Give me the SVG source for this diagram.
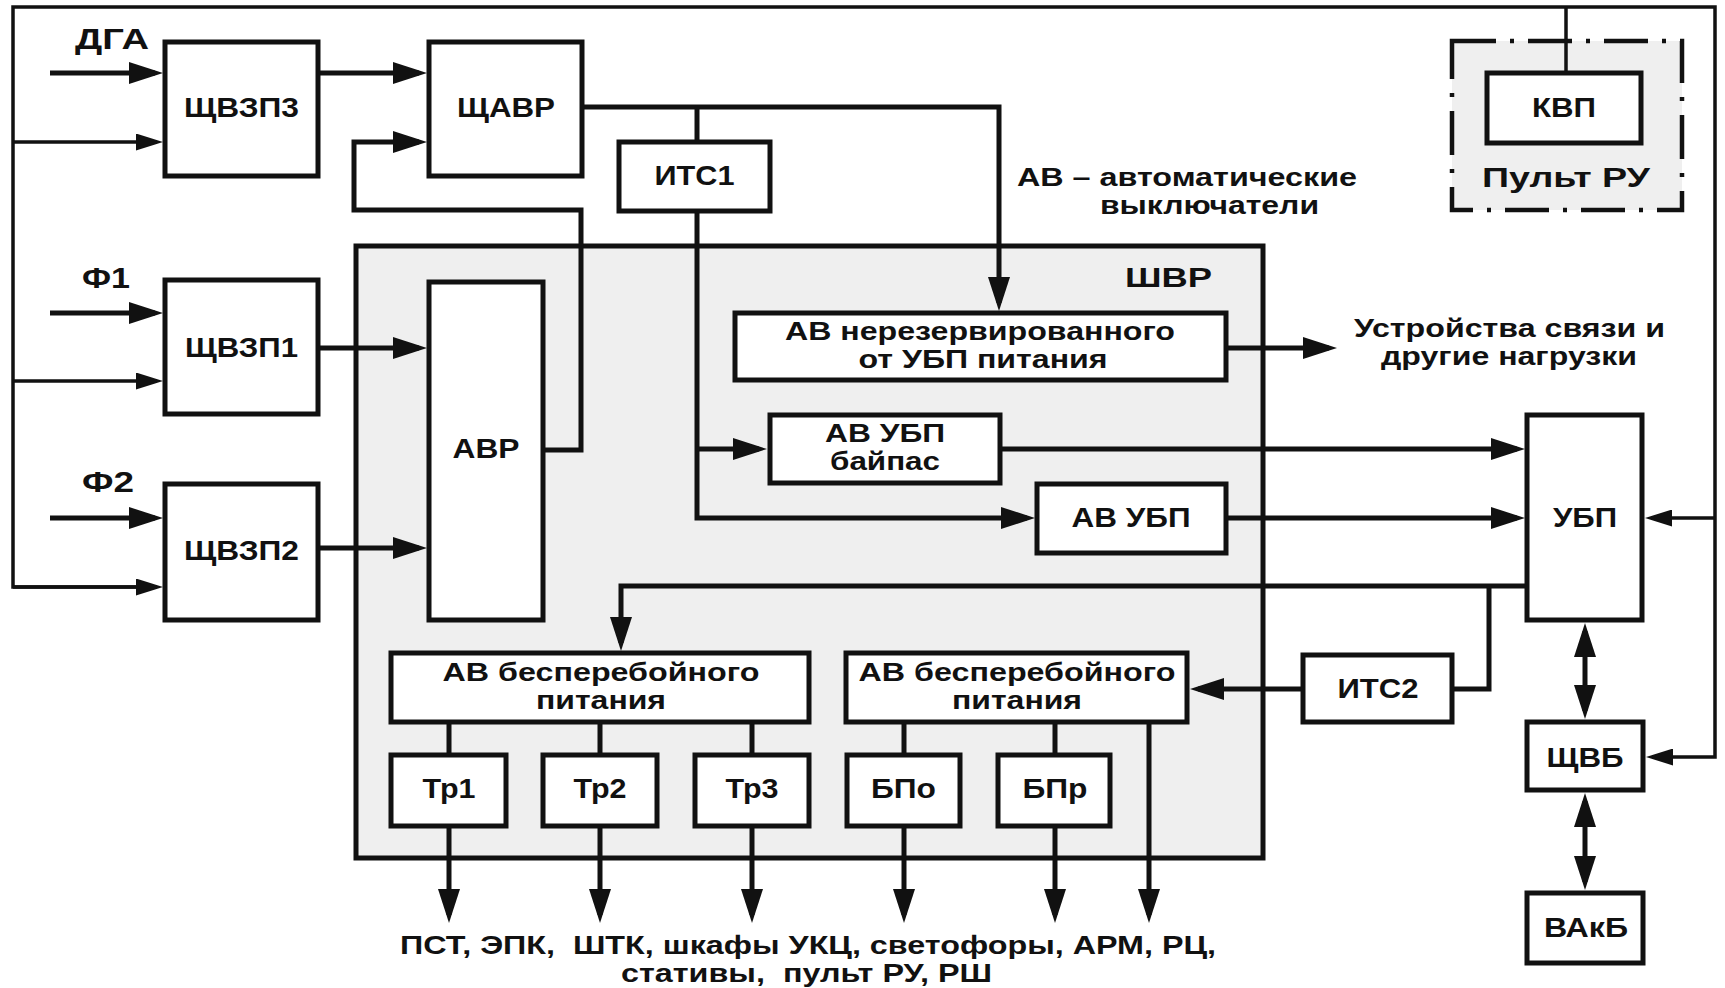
<svg xmlns="http://www.w3.org/2000/svg" width="1725" height="988" viewBox="0 0 1725 988">
<style>
.bg{fill:#ffffff}
.box{fill:#ffffff;stroke:#111;stroke-width:5}
.grp{fill:#efefef;stroke:#111;stroke-width:5}
.dash{fill:#efefef;stroke:#111;stroke-width:4.5;stroke-dasharray:44 14 4 14}
.c{fill:none;stroke:#111;stroke-width:5;stroke-linejoin:miter}
.f{fill:none;stroke:#111;stroke-width:3.5}
.t{font-family:"Liberation Sans",Arial,sans-serif;font-weight:bold;font-size:27px;fill:#111;white-space:pre}
.t2{font-size:25px}
.m{text-anchor:middle}
.l{font-size:29px}
</style>
<defs>
<marker id="a" viewBox="0 0 34 22" markerWidth="34" markerHeight="22" refX="26" refY="11" orient="auto-start-reverse" markerUnits="userSpaceOnUse"><path d="M0,0 L34,11 L0,22 z" fill="#111"/></marker>
<marker id="s" viewBox="0 0 27 17" markerWidth="27" markerHeight="17" refX="21" refY="8.5" orient="auto" markerUnits="userSpaceOnUse"><path d="M0,0 L27,8.5 L0,17 z" fill="#111"/></marker>
</defs>
<rect class="bg" x="0" y="0" width="1725" height="988"/>

<g id="SHVR">
<rect class="grp" x="356" y="246" width="907" height="612"/>
<text class="t" x="1125" y="287" font-size="32" textLength="87" lengthAdjust="spacingAndGlyphs">ШВР</text>
</g>

<g id="PULT">
<rect class="dash" x="1452" y="41" width="230" height="169"/>
<text class="t m" x="1566" y="187" font-size="30" textLength="168" lengthAdjust="spacingAndGlyphs">Пульт РУ</text>
</g>

<g id="connectors">
<path class="f" d="M1566,7 V73"/>
<path class="f" d="M157,587 H13 V7 H1715 V757 H1652" marker-end="url(#s)"/>
<path class="f" d="M13,142 H157" marker-end="url(#s)"/>
<path class="f" d="M13,381 H157" marker-end="url(#s)"/>
<path class="f" d="M1715,518 H1651" marker-end="url(#s)"/>
<path class="f" d="M13,587 H157" marker-end="url(#s)"/>

<path class="c" d="M50,73 H155" marker-end="url(#a)"/>
<path class="c" d="M50,313 H155" marker-end="url(#a)"/>
<path class="c" d="M50,518 H155" marker-end="url(#a)"/>
<path class="c" d="M318,73 H419" marker-end="url(#a)"/>
<path class="c" d="M543,450 H581 V210 H354 V142 H419" marker-end="url(#a)"/>
<path class="c" d="M318,348 H419" marker-end="url(#a)"/>
<path class="c" d="M318,548 H419" marker-end="url(#a)"/>
<path class="c" d="M582,107 H999 V303" marker-end="url(#a)"/>
<path class="c" d="M697,107 V142"/>
<path class="c" d="M697,211 V518 H1027" marker-end="url(#a)"/>
<path class="c" d="M697,449 H759" marker-end="url(#a)"/>
<path class="c" d="M1226,348 H1329" marker-end="url(#a)"/>
<path class="c" d="M1000,449 H1517" marker-end="url(#a)"/>
<path class="c" d="M1226,518 H1517" marker-end="url(#a)"/>
<path class="c" d="M1527,586 H621 V643" marker-end="url(#a)"/>
<path class="c" d="M1489,586 V689 H1452"/>
<path class="c" d="M1303,689 H1198" marker-end="url(#a)"/>
<path class="c" d="M1585,631 V711" marker-start="url(#a)" marker-end="url(#a)"/>
<path class="c" d="M1585,801 V882" marker-start="url(#a)" marker-end="url(#a)"/>
<path class="c" d="M449,722 V755 M600,722 V755 M752,722 V755 M904,722 V755 M1055,722 V755"/>
<path class="c" d="M449,826 V915" marker-end="url(#a)"/>
<path class="c" d="M600,826 V915" marker-end="url(#a)"/>
<path class="c" d="M752,826 V915" marker-end="url(#a)"/>
<path class="c" d="M904,826 V915" marker-end="url(#a)"/>
<path class="c" d="M1055,826 V915" marker-end="url(#a)"/>
<path class="c" d="M1149,722 V915" marker-end="url(#a)"/>
</g>

<g id="DGA"><text class="t l" x="75" y="49" textLength="74" lengthAdjust="spacingAndGlyphs">ДГА</text></g>
<g id="F1"><text class="t l" x="82" y="288" textLength="48" lengthAdjust="spacingAndGlyphs">Ф1</text></g>
<g id="F2"><text class="t l" x="82" y="492" textLength="52" lengthAdjust="spacingAndGlyphs">Ф2</text></g>

<g id="SHVZP3"><rect class="box" x="165" y="42" width="153" height="134"/><text class="t m" x="241.5" y="117" textLength="115" lengthAdjust="spacingAndGlyphs">ЩВЗП3</text></g>
<g id="SHAVR"><rect class="box" x="429" y="42" width="153" height="134"/><text class="t m" x="506" y="117" textLength="98" lengthAdjust="spacingAndGlyphs">ЩАВР</text></g>
<g id="ITS1"><rect class="box" x="619" y="142" width="151" height="69"/><text class="t m" x="694.5" y="185" textLength="80" lengthAdjust="spacingAndGlyphs">ИТС1</text></g>
<g id="note"><text class="t t2" x="1017" y="186" textLength="340" lengthAdjust="spacingAndGlyphs">АВ – автоматические</text><text class="t t2" x="1100" y="214" textLength="219" lengthAdjust="spacingAndGlyphs">выключатели</text></g>
<g id="KVP"><rect class="box" x="1487" y="73" width="154" height="70"/><text class="t m" x="1564" y="117" textLength="64" lengthAdjust="spacingAndGlyphs">КВП</text></g>

<g id="SHVZP1"><rect class="box" x="165" y="280" width="153" height="134"/><text class="t m" x="241.5" y="357" textLength="113" lengthAdjust="spacingAndGlyphs">ЩВЗП1</text></g>
<g id="SHVZP2"><rect class="box" x="165" y="484" width="153" height="136"/><text class="t m" x="241.5" y="560" textLength="115" lengthAdjust="spacingAndGlyphs">ЩВЗП2</text></g>
<g id="AVR"><rect class="box" x="429" y="282" width="114" height="338"/><text class="t m" x="486" y="458" textLength="67" lengthAdjust="spacingAndGlyphs">АВР</text></g>

<g id="AV_NR"><rect class="box" x="735" y="313" width="491" height="67"/><text class="t t2 m" x="980" y="340" textLength="390" lengthAdjust="spacingAndGlyphs">АВ нерезервированного</text><text class="t t2 m" x="983" y="368" textLength="249" lengthAdjust="spacingAndGlyphs">от УБП питания</text></g>
<g id="loads"><text class="t t2" x="1354" y="337" textLength="311" lengthAdjust="spacingAndGlyphs">Устройства связи и</text><text class="t t2" x="1381" y="365" textLength="256" lengthAdjust="spacingAndGlyphs">другие нагрузки</text></g>
<g id="AV_BYP"><rect class="box" x="770" y="415" width="230" height="68"/><text class="t t2 m" x="885" y="441.5" textLength="120" lengthAdjust="spacingAndGlyphs">АВ УБП</text><text class="t t2 m" x="885" y="469.5" textLength="110" lengthAdjust="spacingAndGlyphs">байпас</text></g>
<g id="AV_UBP"><rect class="box" x="1037" y="484" width="189" height="69"/><text class="t m" x="1131" y="527" textLength="119" lengthAdjust="spacingAndGlyphs">АВ УБП</text></g>
<g id="UBP"><rect class="box" x="1527" y="415" width="115" height="205"/><text class="t m" x="1585" y="527" textLength="64" lengthAdjust="spacingAndGlyphs">УБП</text></g>

<g id="AV_B1"><rect class="box" x="391" y="653" width="418" height="69"/><text class="t t2 m" x="601" y="681" textLength="317" lengthAdjust="spacingAndGlyphs">АВ бесперебойного</text><text class="t t2 m" x="601" y="709" textLength="130" lengthAdjust="spacingAndGlyphs">питания</text></g>
<g id="AV_B2"><rect class="box" x="846" y="653" width="341" height="69"/><text class="t t2 m" x="1017" y="681" textLength="317" lengthAdjust="spacingAndGlyphs">АВ бесперебойного</text><text class="t t2 m" x="1017" y="709" textLength="130" lengthAdjust="spacingAndGlyphs">питания</text></g>
<g id="ITS2"><rect class="box" x="1303" y="655" width="149" height="67"/><text class="t m" x="1378" y="698" textLength="81" lengthAdjust="spacingAndGlyphs">ИТС2</text></g>

<g id="TR1"><rect class="box" x="391" y="755" width="115" height="71"/><text class="t m" x="449" y="798" textLength="53" lengthAdjust="spacingAndGlyphs">Тр1</text></g>
<g id="TR2"><rect class="box" x="543" y="755" width="114" height="71"/><text class="t m" x="600" y="798" textLength="53" lengthAdjust="spacingAndGlyphs">Тр2</text></g>
<g id="TR3"><rect class="box" x="695" y="755" width="114" height="71"/><text class="t m" x="752" y="798" textLength="53" lengthAdjust="spacingAndGlyphs">Тр3</text></g>
<g id="BPO"><rect class="box" x="847" y="755" width="113" height="71"/><text class="t m" x="903.5" y="798" textLength="65" lengthAdjust="spacingAndGlyphs">БПо</text></g>
<g id="BPR"><rect class="box" x="998" y="755" width="112" height="71"/><text class="t m" x="1055" y="798" textLength="65" lengthAdjust="spacingAndGlyphs">БПр</text></g>

<g id="SHVB"><rect class="box" x="1527" y="722" width="116" height="68"/><text class="t m" x="1585" y="767" textLength="77" lengthAdjust="spacingAndGlyphs">ЩВБ</text></g>
<g id="VAKB"><rect class="box" x="1527" y="893" width="116" height="70"/><text class="t m" x="1586" y="937" textLength="84" lengthAdjust="spacingAndGlyphs">ВАкБ</text></g>

<g id="consumers"><text class="t t2" x="400" y="954" textLength="816" lengthAdjust="spacingAndGlyphs">ПСТ, ЭПК,  ШТК, шкафы УКЦ, светофоры, АРМ, РЦ,</text><text class="t t2" x="621" y="982" textLength="371" lengthAdjust="spacingAndGlyphs">стативы,  пульт РУ, РШ</text></g>
</svg>
